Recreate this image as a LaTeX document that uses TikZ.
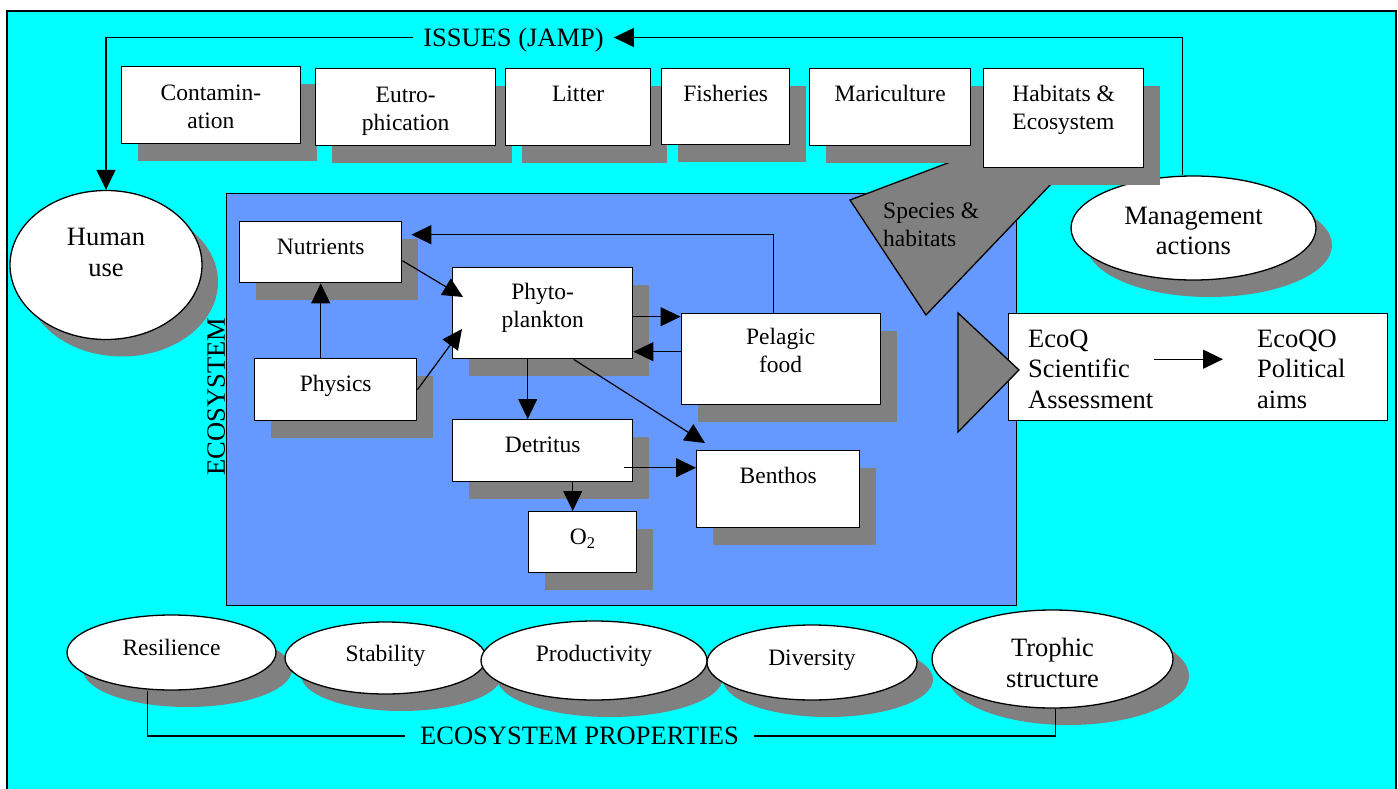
\documentclass[tikz,border=0pt]{standalone}
\usepackage{fontspec}
\setmainfont{Liberation Serif}
\usetikzlibrary{shapes.geometric,shadows,arrows.meta}
\definecolor{frameCyan}{HTML}{00FFFF}
\definecolor{ecoBlue}{HTML}{6699FF}
\definecolor{shadeGray}{HTML}{808080}
\newcommand\boxfnt{\fontsize{23.5}{28}\selectfont}
\newcommand\bigfnt{\fontsize{26.5}{31}\selectfont}
\begin{document}
\begin{tikzpicture}[x=1pt,y=-1pt,
  arr/.style={line width=1.2pt,-{Triangle[length=20pt,width=19pt]}},
  conn/.style={line width=1.2pt},
  sbox/.style={draw,line width=1.4pt,fill=white,rectangle,inner sep=0pt,anchor=north west,align=center,font=\boxfnt,text height=17pt,
    general shadow={fill=shadeGray,shadow xshift=16.5pt,shadow yshift=-17pt}},
  sell/.style={draw,line width=1.3pt,fill=white,ellipse,inner sep=0pt,align=center,
    general shadow={fill=shadeGray,shadow xshift=16pt,shadow yshift=-17pt}},
  lbl/.style={font=\bigfnt,text height=20pt,text depth=2.5pt,inner ysep=0pt,inner xsep=10pt},
  coltext/.style={anchor=north west,inner sep=0pt,align=left,font=\fontsize{26.5}{30.5}\selectfont,text height=79pt,text depth=0pt},
]
\useasboundingbox (0,0) rectangle (1398,789);
\fill[white] (0,0) rectangle (1398,789);
\begin{scope}
  \clip (0,0) rectangle (1398,789);
  \draw[line width=1.5pt,fill=frameCyan] (7,11) rectangle (1396,805);
\end{scope}

% ecosystem region
\node[draw,line width=1.4pt,fill=ecoBlue,inner sep=0pt,anchor=north west,minimum width=790pt,minimum height=412pt] (eco) at (226,193) {};

% species & habitats arrow shape
\draw[line width=1.3pt,fill=shadeGray] (982,150) -- (850,200) -- (926,315) -- (1052,183) -- cycle;

% management ellipse
\node[sell,minimum width=245pt,minimum height=104pt,font=\fontsize{26.5}{30}\selectfont,text height=52pt,text depth=0pt] (mgmt) at (1193.5,228) {Management\\actions};

% issue boxes
\node[sbox,minimum width=179.5pt,minimum height=77pt,text height=47pt,text depth=0pt] (contam) at (120.5,66) {Contamin-\\ation};
\node[sbox,minimum width=180pt,minimum height=77pt,text height=47pt,text depth=0pt] (eutro) at (315,68) {Eutro-\\phication};
\node[sbox,minimum width=145pt,minimum height=77pt,text depth=28pt] (litter) at (505,68) {Litter};
\node[sbox,minimum width=128pt,minimum height=76pt,text depth=27pt] (fish) at (661,68) {Fisheries};
\node[sbox,minimum width=161pt,minimum height=77pt,text depth=28pt] (mari) at (809,68) {Mariculture};
\node[sbox,minimum width=160pt,minimum height=99pt,text height=45pt,text depth=22pt,align=left] (habit) at (983,68) {Habitats \&\\Ecosystem};

\node[anchor=north west,inner sep=0pt,align=left,font=\boxfnt,text height=45pt,text depth=0pt] (species) at (883,201) {Species \&\\habitats};

% human use
\node[sell,minimum width=192pt,minimum height=149pt,font=\bigfnt,text height=49.5pt,text depth=27.5pt] (human) at (106,265) {Human\\use};

% ecosystem boxes
\node[sbox,minimum width=162pt,minimum height=61pt,text depth=12pt] (nut) at (239,221) {Nutrients};
\node[sbox,minimum width=180pt,minimum height=91pt,text height=45pt,text depth=16pt] (phy) at (452,267) {Phyto-\\plankton};
\node[sbox,minimum width=162pt,minimum height=62pt,text depth=13pt] (phys) at (254,358) {Physics};
\node[sbox,minimum width=180pt,minimum height=62pt,text depth=13pt] (det) at (452,419) {Detritus};
\node[sbox,minimum width=108pt,minimum height=61pt,text depth=12pt] (oxy) at (528,511) {O\textsubscript{2}};
\node[sbox,minimum width=199pt,minimum height=91pt,text height=45pt,text depth=18pt] (pel) at (680.5,313) {Pelagic\\food};
\node[sbox,minimum width=163pt,minimum height=77pt,text depth=28pt] (ben) at (696,450) {Benthos};

% EcoQ box
\node[draw,line width=1.4pt,fill=white,inner sep=0pt,anchor=north west,minimum width=379pt,minimum height=107pt] (ecobox) at (1008,313) {};
\draw[line width=1.3pt,fill=shadeGray] (958,313) -- (1019,370) -- (958,432) -- cycle;
\node[coltext] (ecoq) at (1028,329) {EcoQ\\Scientific\\Assessment};
\node[coltext] (ecoqo) at (1257,329) {EcoQO\\Political\\aims};

% bottom ellipses
\node[sell,minimum width=209pt,minimum height=75pt,font=\boxfnt,text height=17pt,text depth=12pt] (res) at (171.5,652.5) {Resilience};
\node[sell,minimum width=201pt,minimum height=72pt,font=\boxfnt,text height=17pt,text depth=10pt] (stab) at (385.5,658) {Stability};
\node[sell,minimum width=226pt,minimum height=79pt,font=\boxfnt,text height=17pt,text depth=14.5pt] (prod) at (594,660.5) {Productivity};
\node[sell,minimum width=210pt,minimum height=75pt,font=\boxfnt,text height=17pt,text depth=12pt] (div) at (812,662.5) {Diversity};
\node[sell,minimum width=241pt,minimum height=98pt,font=\bigfnt,text height=56pt,text depth=0pt] (troph) at (1052.5,659) {Trophic\\structure};

% labels
\node[lbl] (issues) at (513.5,37.5) {ISSUES (JAMP)};
\node[lbl,inner xsep=15pt] (props) at (579.5,736) {ECOSYSTEM PROPERTIES};
\node[lbl,rotate=90] (ecolabel) at (216,396.5) {ECOSYSTEM};

% connectors
\draw[arr] (issues.west) -| (human.north);
\draw[arr] ([xshift=-11pt]mgmt.north) |- (issues.east);
\draw[conn] ([xshift=-24pt]res.south) |- (props.west);
\draw[conn] ([xshift=3pt]troph.south) |- (props.east);

\draw[arr,shorten >=9pt] ([xshift=-7pt]pel.north) |- ([yshift=17.5pt]nut.east);
\draw[arr] ([yshift=-8.5pt]nut.east) -- ([xshift=11pt,yshift=-30pt]phy.north west);
\draw[arr] (nut.south |- phys.north) -- (nut.south);
\draw[arr] (phys.east) -- ([xshift=10pt,yshift=-62pt]phy.north west);
\coordinate (pp) at ([yshift=-3.5pt]phy.east);
\draw[arr] (pp) -- (pp -| pel.west);
\coordinate (pq) at ([yshift=7.5pt]pel.west);
\draw[arr] (pq) -- (pq -| phy.east);
\draw[arr] ([xshift=-15pt]phy.south) -- ([xshift=-15pt]det.north);
\draw[arr] ([xshift=31pt]phy.south) -- ([xshift=9pt,yshift=7pt]ben.north west);
\coordinate (dq) at ([xshift=-9pt,yshift=-17pt]det.east);
\draw[arr] (dq) -- (dq -| ben.west);
\draw[arr] ([xshift=30pt]det.south) -- ([xshift=-10pt]oxy.north);
\draw[arr,shorten >=34pt] ([yshift=9.5pt]ecoq.east) -- ([yshift=9.5pt]ecoqo.west);
\end{tikzpicture}
\end{document}
